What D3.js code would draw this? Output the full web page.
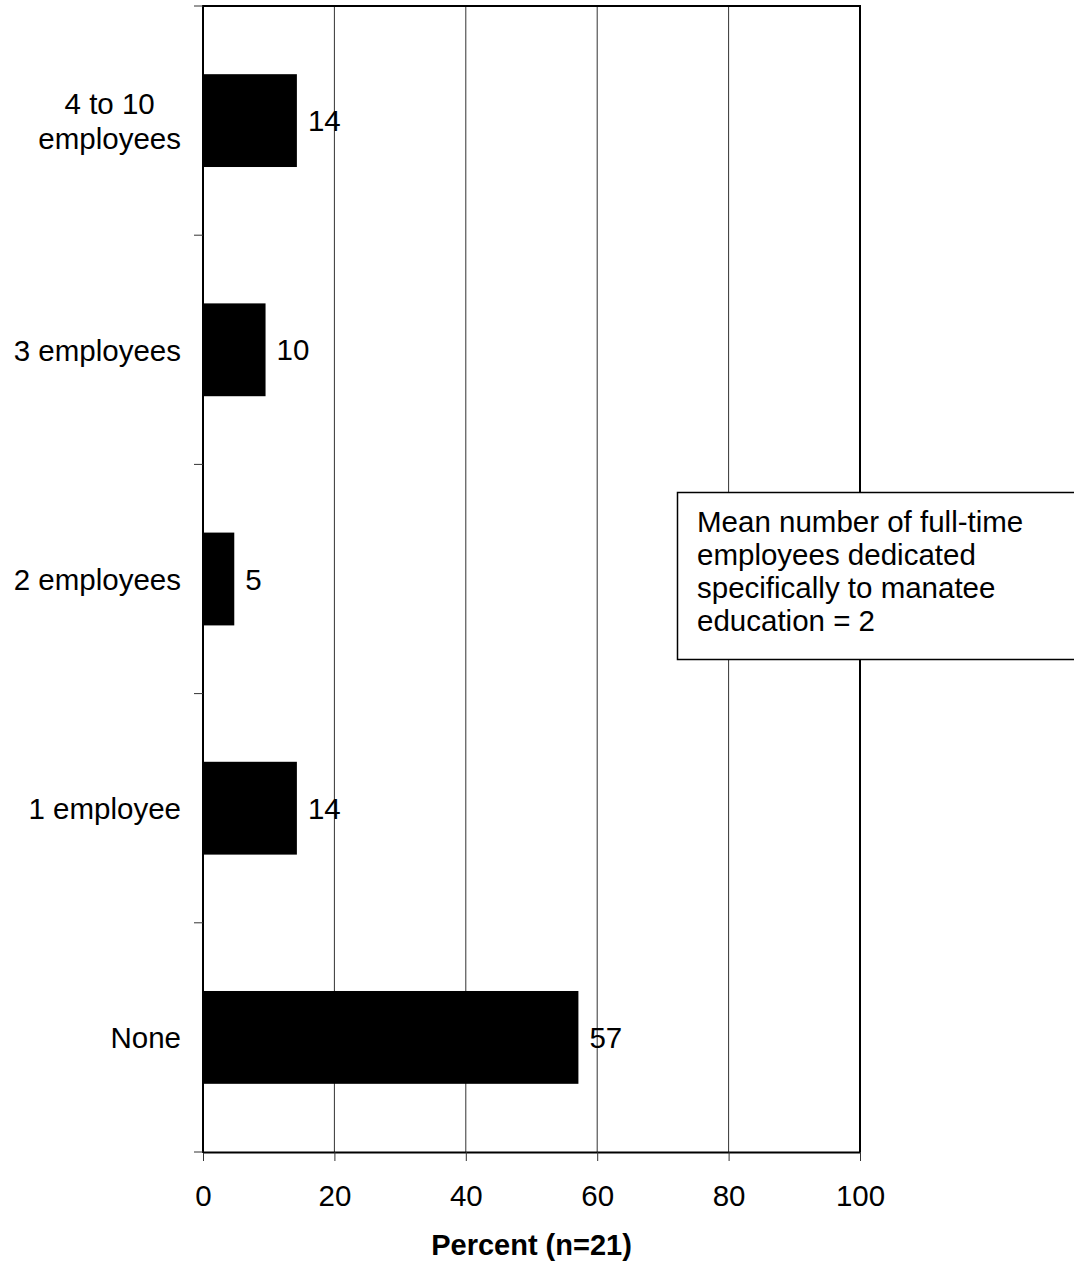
<!DOCTYPE html>
<html>
<head>
<meta charset="utf-8">
<script src="https://cdn.jsdelivr.net/npm/d3@7"></script>
<style>
  html, body { margin: 0; padding: 0; background: #fff; }
  svg { display: block; font-family: "Liberation Sans", Arial, sans-serif; }
</style>
</head>
<body>
<svg id="chart" width="1074" height="1264"></svg>
<script>
// Data (top to bottom)
const categories = ["4 to 10|employees", "3 employees", "2 employees", "1 employee", "None"];
const percents = [14.29, 9.52, 4.76, 14.29, 57.14];
const valueLabels = ["14", "10", "5", "14", "57"];
const xTicks = [0, 20, 40, 60, 80, 100];
const xTitle = "Percent (n=21)";
const noteLines = ["Mean number of full-time", "employees dedicated", "specifically to manatee", "education = 2"];

const svg = d3.select("#chart");
const m = { left: 203, right: 860, top: 6, bottom: 1152 };
const FS = 29.5;

const x = d3.scaleLinear().domain([0, 100]).range([m.left, m.right]);
const y = d3.scaleBand().domain(categories).range([m.top, m.bottom])
  .paddingInner(0.595).paddingOuter(0.2975);
const slot = d3.scaleBand().domain(categories).range([m.top, m.bottom]).padding(0);

// gridlines
svg.append("g").selectAll("line").data(xTicks.slice(1, -1)).join("line")
  .attr("x1", d => x(d)).attr("x2", d => x(d))
  .attr("y1", m.top).attr("y2", m.bottom)
  .attr("stroke", "#333").attr("stroke-width", 1);

// bars
svg.append("g").selectAll("rect").data(categories).join("rect")
  .attr("x", x(0))
  .attr("y", d => y(d))
  .attr("width", (d, i) => x(percents[i]) - x(0))
  .attr("height", y.bandwidth())
  .attr("fill", "#000");

// frame (top and right)
svg.append("line").attr("x1", m.left).attr("x2", m.right + 1).attr("y1", m.top).attr("y2", m.top)
  .attr("stroke", "#000").attr("stroke-width", 2);
svg.append("line").attr("x1", m.right).attr("x2", m.right).attr("y1", m.top).attr("y2", m.bottom)
  .attr("stroke", "#000").attr("stroke-width", 2);

// x axis
const xAxis = d3.axisBottom(x).tickValues(xTicks).tickSize(9).tickPadding(24).tickSizeOuter(0);
const gx = svg.append("g").attr("transform", `translate(0,${m.bottom})`).call(xAxis);
gx.select(".domain").attr("stroke", "#000").attr("stroke-width", 2);
gx.selectAll(".tick line").attr("stroke", "#333").attr("stroke-width", 1);
gx.selectAll(".tick text").attr("font-size", FS).attr("fill", "#000")
  .attr("font-family", "Liberation Sans, Arial, sans-serif");

// y axis: domain + tick marks at category boundaries
svg.append("line").attr("x1", m.left).attr("x2", m.left).attr("y1", m.top - 1).attr("y2", m.bottom + 1)
  .attr("stroke", "#000").attr("stroke-width", 2);
const bounds = categories.map(c => slot(c)).concat([m.bottom]);
svg.append("g").selectAll("line").data(bounds).join("line")
  .attr("x1", m.left - 9).attr("x2", m.left)
  .attr("y1", d => d).attr("y2", d => d)
  .attr("stroke", "#333").attr("stroke-width", 1);

// category labels
const labelRight = 181;
categories.forEach(c => {
  const lines = c.split("|");
  const cy = y(c) + y.bandwidth() / 2;
  const lh = 35;
  const t = svg.append("text").attr("font-size", FS).attr("fill", "#000")
    .attr("text-anchor", "middle").attr("dominant-baseline", "central");
  const spans = lines.map((ln, i) => t.append("tspan")
    .attr("y", cy + (i - (lines.length - 1) / 2) * lh).text(ln));
  const maxW = d3.max(spans, s => s.node().getComputedTextLength());
  spans.forEach(s => s.attr("x", labelRight - maxW / 2));
});

// value labels
svg.append("g").selectAll("text").data(categories).join("text")
  .attr("x", (d, i) => x(percents[i]) + 11)
  .attr("y", d => y(d) + y.bandwidth() / 2)
  .attr("dominant-baseline", "central")
  .attr("font-size", FS).attr("fill", "#000")
  .text((d, i) => valueLabels[i]);

// x title
svg.append("text").attr("x", (m.left + m.right) / 2).attr("y", 1255)
  .attr("text-anchor", "middle").attr("font-size", 29).attr("font-weight", "bold")
  .attr("fill", "#000").text(xTitle);

// note box
const boxX = 677, boxY = 492, boxW = 420, boxH = 167;
svg.append("rect").attr("x", boxX + 0.5).attr("y", boxY + 0.5).attr("width", boxW).attr("height", boxH)
  .attr("fill", "#fff").attr("stroke", "#000").attr("stroke-width", 1.5);
const note = svg.append("text").attr("font-size", FS).attr("fill", "#000");
noteLines.forEach((ln, i) => note.append("tspan").attr("x", 697).attr("y", 532 + i * 33).text(ln));
</script>
</body>
</html>
